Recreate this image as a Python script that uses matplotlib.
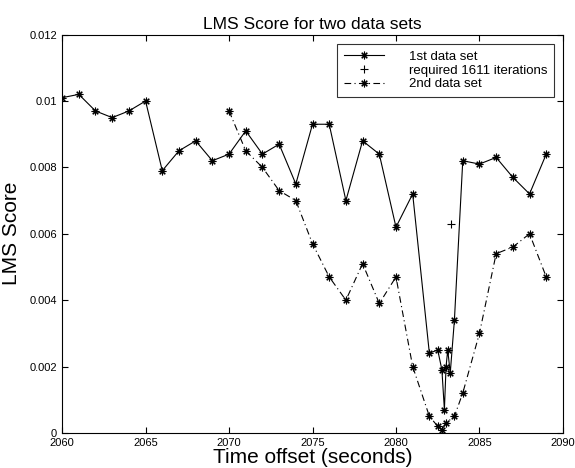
import matplotlib.pyplot as plt

plt.rcParams["font.family"] = ["Liberation Sans", "DejaVu Sans"]

# 1st data set (solid)
t1 = [2060, 2061, 2062, 2063, 2064, 2065, 2066, 2067, 2068, 2069,
      2070, 2071, 2072, 2073, 2074, 2075, 2076, 2077, 2078, 2079,
      2080, 2081, 2082, 2082.5, 2082.75, 2082.9, 2083.0, 2083.1, 2083.25, 2083.5,
      2084, 2085, 2086, 2087, 2088, 2089]
score1 = [0.0101, 0.0102, 0.0097, 0.0095, 0.0097, 0.0100, 0.0079, 0.0085, 0.0088, 0.0082,
          0.0084, 0.0091, 0.0084, 0.0087, 0.0075, 0.0093, 0.0093, 0.0070, 0.0088, 0.0084,
          0.0062, 0.0072, 0.0024, 0.0025, 0.0019, 0.0007, 0.0020, 0.0025, 0.0018, 0.0034,
          0.0082, 0.0081, 0.0083, 0.0077, 0.0072, 0.0084]

# single point: required 1611 iterations
t_req = [2083.3]
score_req = [0.0063]

# 2nd data set (dash-dot)
t2 = [2070, 2071, 2072, 2073, 2074, 2075, 2076, 2077, 2078, 2079,
      2080, 2081, 2082, 2082.5, 2082.75, 2083.0, 2083.5,
      2084, 2085, 2086, 2087, 2088, 2089]
score2 = [0.0097, 0.0085, 0.0080, 0.0073, 0.0070, 0.0057, 0.0047, 0.0040, 0.0051, 0.0039,
          0.0047, 0.0020, 0.0005, 0.0002, 0.0001, 0.0003, 0.0005,
          0.0012, 0.0030, 0.0054, 0.0056, 0.0060, 0.0047]

xticks = [2060, 2065, 2070, 2075, 2080, 2085, 2090]
yticks = [0, 0.002, 0.004, 0.006, 0.008, 0.01, 0.012]
ytick_labels = ["0", "0.002", "0.004", "0.006", "0.008", "0.01", "0.012"]

fig = plt.figure(figsize=(5.75, 4.68), dpi=100)
ax = fig.add_axes([0.108, 0.075, 0.871, 0.851])

star = (8, 2, 0)
ax.plot(t1, score1, color="black", linestyle="-", linewidth=0.8,
        marker=star, markersize=5.5, markeredgewidth=0.8, label="1st data set")
ax.plot(t_req, score_req, color="black", linestyle="none",
        marker="+", markersize=6, markeredgewidth=0.8, label="required 1611 iterations")
ax.plot(t2, score2, color="black", linestyle=(0, (6, 3, 1, 3)), linewidth=0.8,
        marker=star, markersize=5.5, markeredgewidth=0.8, label="2nd data set")

ax.set_xlim(2060, 2090)
ax.set_ylim(0, 0.012)
ax.set_xticks(xticks)
ax.set_yticks(yticks)
ax.set_yticklabels(ytick_labels)
ax.tick_params(direction="in", labelsize=8, length=4, width=0.8,
               top=True, right=True)
for s in ax.spines.values():
    s.set_linewidth(0.8)

ax.set_title("LMS Score for two data sets", fontsize=12.5, pad=4)
ax.set_xlabel("Time offset (seconds)", fontsize=15, labelpad=0)
ax.set_ylabel("LMS Score", fontsize=15, labelpad=6)

leg = ax.legend(loc="upper right", fontsize=9.5, frameon=True, fancybox=False,
                edgecolor="black", handlelength=3.0, borderpad=0.5,
                labelspacing=0.12, handletextpad=1.9, borderaxespad=0.7)
leg.get_frame().set_linewidth(0.8)

fig.savefig("out.png", dpi=100)
